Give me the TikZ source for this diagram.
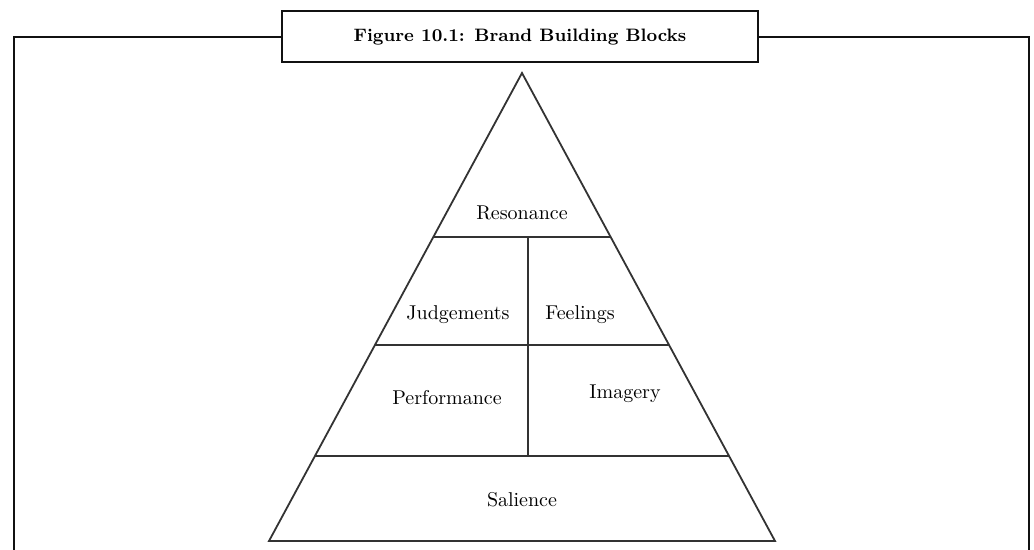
\documentclass[tikz,border=0pt]{standalone}
\usepackage{tikz}
\usetikzlibrary{calc, positioning}
\definecolor{framegray}{HTML}{111111}
\definecolor{linegray}{HTML}{333333}

\begin{document}
\begin{tikzpicture}[
  x=0.5pt, y=-0.5pt,
  frame/.style={draw=framegray, line width=1.1pt},
  titlebox/.style={rectangle, draw=framegray, line width=1pt, fill=white,
                   minimum width=238pt, minimum height=25.5pt,
                   font=\small\bfseries, align=center, inner sep=0pt},
  pyr/.style={draw=linegray, line width=0.9pt, line join=miter},
  lbl/.style={font=\normalsize, inner sep=0pt}
]
\useasboundingbox (0,0) rectangle (1034,550);

% title and open frame
\node[titlebox] (title) at (520,37) {Figure 10.1: Brand Building Blocks};
\draw[frame] (title.west) -- (14,37) -- (14,550);
\draw[frame] (title.east) -- (1029,37) -- (1029,550);

% pyramid
\coordinate (apex) at (522,73);
\coordinate (bl) at (269,541);
\coordinate (br) at (775,541);
\draw[pyr] (apex) -- (bl) -- (br) -- cycle;

\coordinate (l1) at ($(apex)!0.3504!(bl)$);
\coordinate (r1) at ($(apex)!0.3504!(br)$);
\coordinate (l2) at ($(apex)!0.5812!(bl)$);
\coordinate (r2) at ($(apex)!0.5812!(br)$);
\coordinate (l3) at ($(apex)!0.8184!(bl)$);
\coordinate (r3) at ($(apex)!0.8184!(br)$);
\draw[pyr] (l1) -- (r1);
\draw[pyr] (l2) -- (r2);
\draw[pyr] (l3) -- (r3);
\coordinate (mtop) at (528,237);
\coordinate (mbot) at (528,456);
\draw[pyr] (mtop) -- (mbot);

% labels
\node[lbl] (res)  at (522,213) {Resonance};
\node[lbl] (jud)  at (458,315) {Judgements};
\node[lbl] (feel) at (580,315) {Feelings};
\node[lbl] (perf) at (447,398) {Performance};
\node[lbl] (img)  at (625,394) {Imagery};
\node[lbl] (sal)  at (522,500) {Salience};
\end{tikzpicture}
\end{document}
